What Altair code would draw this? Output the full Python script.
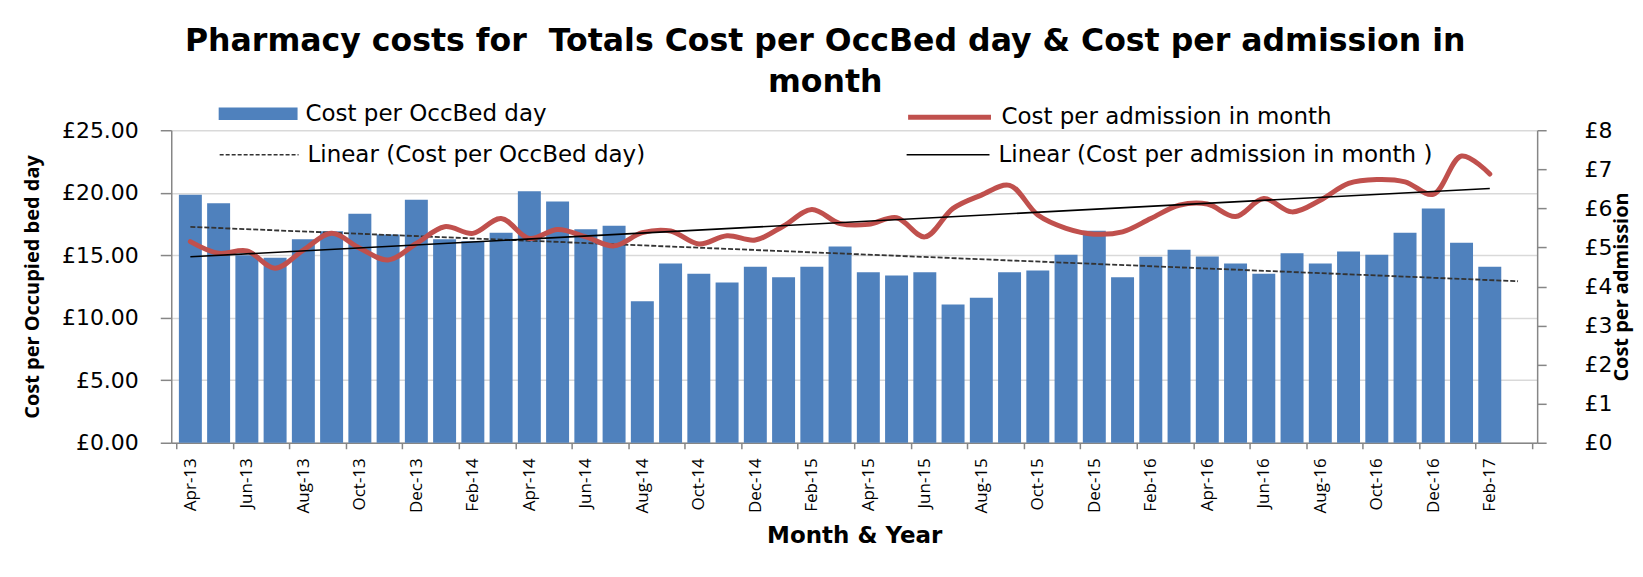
import altair as alt
import pandas as pd

months = ['Apr-13', 'May-13', 'Jun-13', 'Jul-13', 'Aug-13', 'Sep-13', 'Oct-13', 'Nov-13', 'Dec-13',
          'Jan-14', 'Feb-14', 'Mar-14', 'Apr-14', 'May-14', 'Jun-14', 'Jul-14', 'Aug-14', 'Sep-14',
          'Oct-14', 'Nov-14', 'Dec-14', 'Jan-15', 'Feb-15', 'Mar-15', 'Apr-15', 'May-15', 'Jun-15',
          'Jul-15', 'Aug-15', 'Sep-15', 'Oct-15', 'Nov-15', 'Dec-15', 'Jan-16', 'Feb-16', 'Mar-16',
          'Apr-16', 'May-16', 'Jun-16', 'Jul-16', 'Aug-16', 'Sep-16', 'Oct-16', 'Nov-16', 'Dec-16',
          'Jan-17', 'Feb-17']

cost_per_occbed_day = [19.83, 19.16, 15.00, 14.79, 16.28, 16.92, 18.31, 16.65, 19.43, 16.28, 16.12, 16.79,
                       20.12, 19.29, 17.08, 17.35, 11.32, 14.33, 13.51, 12.81, 14.07, 13.24, 14.07, 15.69,
                       13.64, 13.37, 13.64, 11.05, 11.59, 13.64, 13.77, 15.03, 16.95, 13.24, 14.87, 15.43,
                       14.89, 14.33, 13.51, 15.16, 14.33, 15.29, 15.03, 16.79, 18.73, 15.99, 14.07]

cost_per_admission = [5.15, 4.85, 4.91, 4.47, 4.93, 5.36, 4.98, 4.68, 5.10, 5.53, 5.36, 5.74,
                      5.23, 5.46, 5.27, 5.04, 5.38, 5.42, 5.09, 5.30, 5.19, 5.55, 5.97, 5.61,
                      5.59, 5.76, 5.27, 6.00, 6.34, 6.59, 5.83, 5.49, 5.34, 5.40, 5.74, 6.08,
                      6.11, 5.79, 6.25, 5.91, 6.21, 6.64, 6.74, 6.68, 6.36, 7.34, 6.88]

# Excel linear trendlines as drawn (start / end values)
trend_occ_idx = [0, 47]
trend_occ_val = [17.27, 12.92]
trend_adm_idx = [0, 46]
trend_adm_val = [4.76, 6.51]

left_ticks = [0, 5, 10, 15, 20, 25]
right_ticks = [0, 1, 2, 3, 4, 5, 6, 7, 8]

df = pd.DataFrame({
    'idx': list(range(len(months))),
    'month': months,
    'occ': cost_per_occbed_day,
    'adm': cost_per_admission,
    's1': 'Cost per OccBed day',
    's2': 'Cost per admission in month',
})
df_t1 = pd.DataFrame({'idx': trend_occ_idx, 'occ': trend_occ_val, 's3': 'Linear (Cost per OccBed day)'})
df_t2 = pd.DataFrame({'idx': trend_adm_idx, 'adm': trend_adm_val,
                      's4': 'Linear (Cost per admission in month )'})

n_slots = len(months) + 1  # Excel leaves one empty slot (Mar-17)
tick_vals = [k * 0.5 - 0.5 for k in range(2 * n_slots + 1)]
month_js = "[" + ",".join("'%s'" % m for m in months) + "]"
label_expr = "(datum.value %% 2 == 0 && datum.value <= %d) ? %s[datum.value] : ''" % (len(months) - 1, month_js)

AXIS_GREY = '#868686'
LBL_FONT = 'DejaVu Sans'

x_axis = alt.Axis(
    values=tick_vals, labelExpr=label_expr, labelAngle=270, labelOverlap=False,
    labelFlush=False, labelBound=False, labelFont='Open Sans', labelFontSize=17,
    labelColor='black', labelPadding=9, grid=False,
    tickOpacity={'condition': {'test': '(datum.value + 0.5) % 2 == 0', 'value': 1}, 'value': 0},
    tickSize=6, tickColor=AXIS_GREY, tickWidth=1.5, domainColor=AXIS_GREY, domainWidth=1.5,
    title='Month & Year', titleFont=LBL_FONT, titleFontSize=23, titleFontWeight='bold',
    titleColor='black', titlePadding=12,
)

X = alt.X('idx:Q', scale=alt.Scale(domain=[-0.5, n_slots - 0.5], nice=False, zero=False), axis=x_axis)

left_axis = alt.Axis(
    values=left_ticks, labelExpr="'£' + format(datum.value, '.2f')", orient='left',
    labelFont=LBL_FONT, labelFontSize=22, labelColor='black', labelPadding=22,
    tickSize=11, tickColor=AXIS_GREY, tickWidth=1.5, domainColor=AXIS_GREY, domainWidth=1.5,
    grid=True, gridColor='#d9d9d9', gridWidth=1.5,
    title='Cost per Occupied bed day', titleFont='Open Sans', titleFontSize=20,
    titleFontWeight='bold', titleColor='black', titlePadding=19,
)

right_axis = alt.Axis(
    values=right_ticks, labelExpr="'£' + format(datum.value, 'd')", orient='right',
    labelFont=LBL_FONT, labelFontSize=22, labelColor='black', labelPadding=38,
    tickSize=9, tickColor=AXIS_GREY, tickWidth=1.5, domainColor=AXIS_GREY, domainWidth=1.5,
    grid=False,
    title='Cost per admission', titleFont='Open Sans', titleFontSize=20, titleAngle=270,
    titleFontWeight='bold', titleColor='black', titlePadding=19,
)

y_left = alt.Scale(domain=[0, 25], nice=False, zero=True)
y_right = alt.Scale(domain=[0, 8], nice=False, zero=True)

leg_common = dict(orient='none', title=None, labelFont=LBL_FONT, labelFontSize=23,
                  labelColor='black', padding=0, labelOffset=8, labelLimit=0)

bars = alt.Chart(df).mark_bar(size=23).encode(
    x=X,
    y=alt.Y('occ:Q', scale=y_left, axis=left_axis),
    color=alt.Color('s1:N', scale=alt.Scale(range=['#4f81bd']),
                    legend=alt.Legend(symbolType='M-1,-0.16H1V0.16H-1Z', symbolSize=79 ** 2,
                                      symbolStrokeWidth=0, symbolOpacity=1,
                                      legendX=47.5, legendY=-56, **leg_common)),
)

trend_occ = alt.Chart(df_t1).mark_line(strokeDash=[5, 2], strokeWidth=1.8).encode(
    x=X,
    y=alt.Y('occ:Q', scale=y_left, axis=None),
    color=alt.Color('s3:N', scale=alt.Scale(range=['#333333']),
                    legend=alt.Legend(symbolType='stroke', symbolSize=79 ** 2, symbolStrokeWidth=1.6,
                                      symbolDash=[4, 2], legendX=47.5, legendY=-16, **leg_common)),
)

adm_line = alt.Chart(df).mark_line(interpolate='catmull-rom', strokeWidth=5, strokeCap='round').encode(
    x=X,
    y=alt.Y('adm:Q', scale=y_right, axis=right_axis),
    color=alt.Color('s2:N', scale=alt.Scale(range=['#c0504d']),
                    legend=alt.Legend(symbolType='stroke', symbolSize=83 ** 2, symbolStrokeWidth=5,
                                      legendX=735.5, legendY=-57, **leg_common)),
)

trend_adm = alt.Chart(df_t2).mark_line(strokeWidth=1.6).encode(
    x=X,
    y=alt.Y('adm:Q', scale=y_right, axis=None),
    color=alt.Color('s4:N', scale=alt.Scale(range=['#000000']),
                    legend=alt.Legend(symbolType='stroke', symbolSize=83 ** 2, symbolStrokeWidth=1.6,
                                      legendX=735.5, legendY=-18, **leg_common)),
)

chart = alt.layer(bars, trend_occ, adm_line, trend_adm).resolve_scale(
    y='independent', color='independent'
).properties(
    width=1368, height=313,
    autosize=alt.AutoSizeParams(type='none'),
    padding={'left': 163.5, 'top': 122, 'right': 98, 'bottom': 110},
    title=alt.TitleParams(
        text=['Pharmacy costs for\u00a0 Totals Cost per OccBed day & Cost per admission in', 'month'],
        font='DejaVu Sans', fontSize=31.6, fontWeight='bold', color='black',
        anchor='middle', frame='group', dx=-29, dy=25, lineHeight=41, offset=0,
    ),
    background='white',
).configure_view(stroke=None)

chart.save('out.html', embed_options={'renderer': 'svg', 'actions': False})
